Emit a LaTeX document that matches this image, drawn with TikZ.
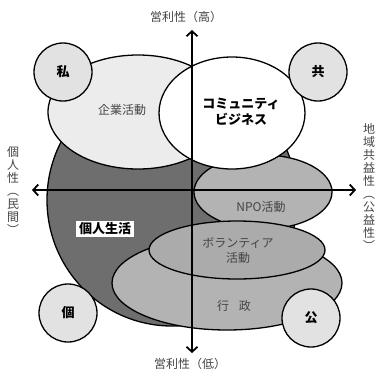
\documentclass[tikz,border=0pt]{standalone}
\usepackage{fontspec}
\newfontfamily\jp{Noto Sans CJK JP}
\usetikzlibrary{shapes.geometric,arrows.meta}
\definecolor{darkfill}{HTML}{6E6E6E}
\definecolor{midfill}{HTML}{B3B3B3}
\definecolor{volfill}{HTML}{ABABAB}
\definecolor{lightfill}{HTML}{E2E2E2}
\definecolor{corpfill}{HTML}{ECECEC}
\definecolor{txtgray}{HTML}{444444}
\tikzset{
  region/.style={ellipse, draw=black, line width=1.3pt, inner sep=0pt},
  corner/.style={circle, draw=black, line width=1.3pt, fill=lightfill, minimum size=58pt, inner sep=0pt, font=\jp\bfseries\fontsize{13}{13}\selectfont},
  lbl/.style={font=\jp\fontsize{12}{15}\selectfont, text=txtgray, align=center, inner sep=0pt},
  blbl/.style={font=\jp\bfseries\fontsize{13}{16}\selectfont, text=black, align=center, inner sep=0pt},
  vlbl/.style={font=\jp\fontsize{12}{13}\selectfont, text=txtgray, align=center, inner sep=0pt},
  axis/.style={line width=1.8pt, {Straight Barb[length=5pt,width=11pt,line width=1.8pt]}-{Straight Barb[length=5pt,width=11pt,line width=1.8pt]}}
}
\begin{document}
\begin{tikzpicture}[x=1pt,y=-1pt]
\useasboundingbox (0,0) rectangle (377,373);
\fill[white] (0,0) rectangle (377,373);
% big personal-life region
\node[region, fill=darkfill, minimum width=250pt, minimum height=252pt] (life) at (172,200) {};
% public administration
\node[region, fill=midfill, minimum width=230pt, minimum height=94pt] (gov) at (227,283) {};
% NPO
\node[region, fill=midfill, minimum width=138pt, minimum height=74pt] (npo) at (263,192) {};
% volunteer
\node[region, fill=volfill, minimum width=176pt, minimum height=58pt] (vol) at (237,250) {};
% corporate
\node[region, fill=corpfill, minimum width=180pt, minimum height=114pt] (corp) at (138,112) {};
% community business
\node[region, fill=white, minimum width=146pt, minimum height=112pt] (comm) at (232,113) {};
% corner circles
\node[corner] (shi) at (63,72) {私};
\node[corner] (kyo) at (318,72) {共};
\node[corner] (ko) at (68,313) {個};
\node[corner] (ko2) at (311,318) {公};
% labels
\node[lbl] (tcorp) at (122,110) {企業活動};
\node[blbl] (tcomm) at (241,112) {コミュニティ\\ビジネス};
\node[lbl] (tnpo) at (261,207) {NPO活動};
\node[lbl] (tvol) at (238,251) {ボランティア\\活動};
\node[lbl] (tgov) at (234,306) {行\hspace{0.8em}政};
\node[blbl, fill=white, inner xsep=3pt, inner ysep=2pt] (tlife) at (105,229) {個人生活};
% axes
\coordinate (top) at (192,30);
\coordinate (bot) at (192,353);
\coordinate (lft) at (32,190);
\coordinate (rgt) at (356,190);
\draw[axis] (bot) -- (top);
\draw[axis] (lft) -- (rgt);
% axis labels
\node[lbl] (thigh) at (186,17) {営利性（高）};
\node[lbl] (tlow) at (190,364) {営利性（低）};
\node[vlbl] (tleft) at (13,190) {個\\人\\性\\︵\\民\\間\\︶};
\node[vlbl] (tright) at (369,187) {地\\域\\共\\益\\性\\︵\\公\\益\\性\\︶};
\end{tikzpicture}
\end{document}
